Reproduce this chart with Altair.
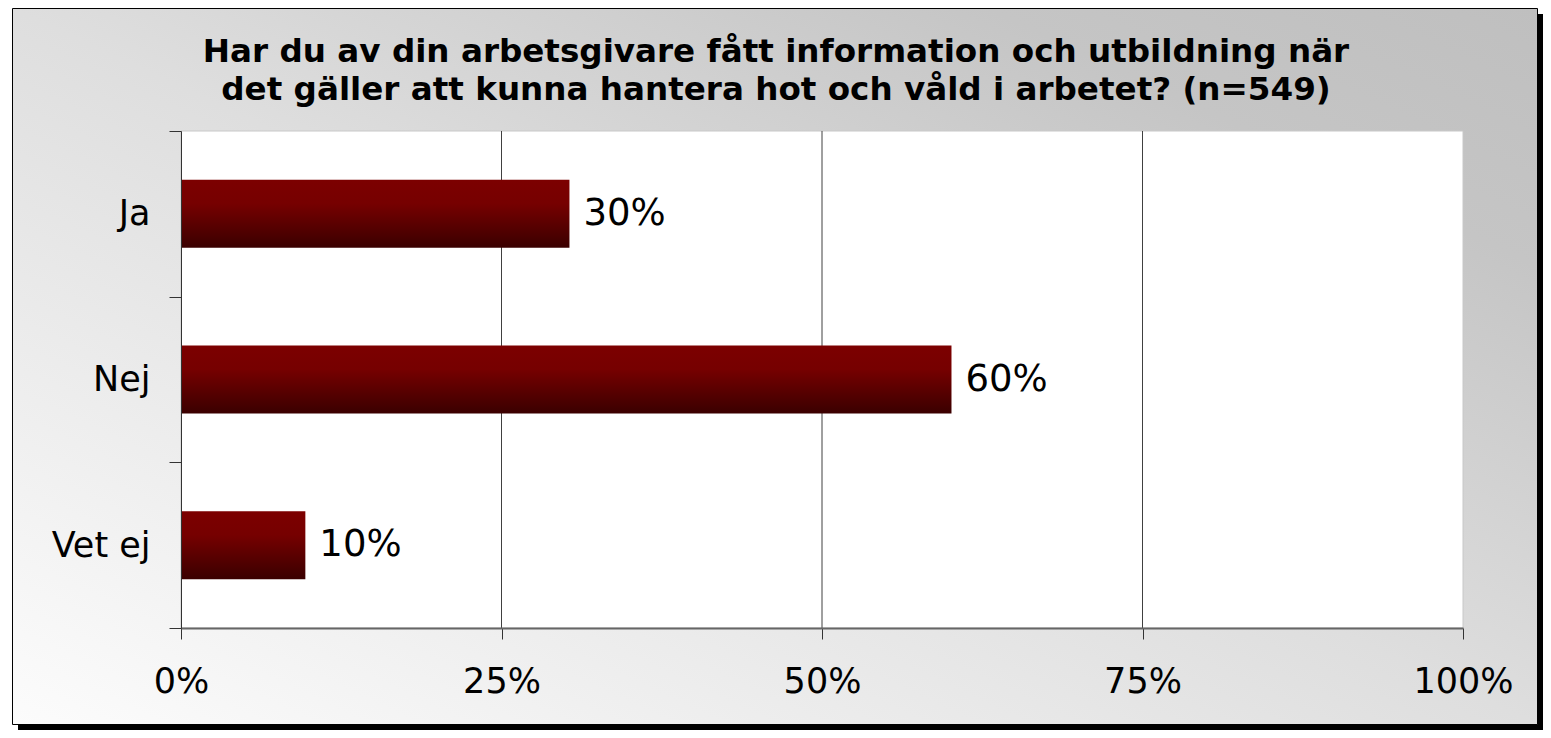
import altair as alt
import pandas as pd

# ---- data ----
categories = ["Ja", "Nej", "Vet ej"]
shares = [0.303, 0.601, 0.097]
value_labels = ["30%", "60%", "10%"]
x_ticks = [0, 0.25, 0.5, 0.75, 1.0]
grid_values = [0.25, 0.5, 0.75]
title_lines = [
    "Har du av din arbetsgivare fått information och utbildning när",
    "det gäller att kunna hantera hot och våld i arbetet? (n=549)",
]

W, H = 1282, 497
FONT = "DejaVu Sans"
LABEL_SIZE = 35
VALUE_SIZE = 37

bars_df = pd.DataFrame({"cat": categories, "share": shares, "label": value_labels})
grid_df = pd.DataFrame({"g": grid_values})
one = pd.DataFrame({"k": [0]})

bg_grad = alt.LinearGradient(
    gradient="linear", x1=0, y1=1, x2=1, y2=0,
    stops=[
        alt.GradientStop(offset=0, color="#fcfcfc"),
        alt.GradientStop(offset=0.5, color="#dedede"),
        alt.GradientStop(offset=0.82, color="#c5c5c5"),
        alt.GradientStop(offset=1, color="#bfbfbf"),
    ],
)
bar_grad = alt.LinearGradient(
    gradient="linear", x1=0, y1=0, x2=0, y2=1,
    stops=[
        alt.GradientStop(offset=0, color="#7c0000"),
        alt.GradientStop(offset=0.35, color="#760000"),
        alt.GradientStop(offset=1, color="#3a0000"),
    ],
)

x_scale = alt.Scale(domain=[0, 1], nice=False, zero=True)
y_scale = alt.Scale(paddingInner=0, paddingOuter=0)

x_axis = alt.Axis(
    values=x_ticks, format=".0%", title=None, grid=False, labelFlush=False,
    domainColor="#666666", domainWidth=2, tickColor="#333333",
    tickSize=11, tickWidth=1, labelFont=FONT, labelFontSize=LABEL_SIZE,
    labelColor="black", labelPadding=25, zindex=1,
)
y_axis = alt.Axis(
    title=None, grid=False, tickBand="extent", domainColor="#333333",
    tickColor="#333333", tickSize=12, labelFont=FONT,
    labelFontSize=LABEL_SIZE, labelColor="black", labelPadding=19, zindex=1,
)

shadow = alt.Chart(one).mark_rect(fill="black").encode(
    x=alt.value(-163), x2=alt.value(W + 80), y=alt.value(-117), y2=alt.value(H + 102)
)
frame = alt.Chart(one).mark_rect(fill=bg_grad, stroke="black", strokeWidth=1).encode(
    x=alt.value(-168.5), x2=alt.value(W + 74.5), y=alt.value(-122.5), y2=alt.value(H + 96.5)
)
plot_bg = alt.Chart(one).mark_rect(fill="white", stroke="#c8c8c8", strokeWidth=1).encode(
    x=alt.value(0), x2=alt.value(W), y=alt.value(0), y2=alt.value(H)
)
title = alt.Chart(one).mark_text(
    font=FONT, fontSize=32.6, fontWeight="bold", align="center",
    baseline="alphabetic", lineHeight=38, color="black",
).encode(x=alt.value(595), y=alt.value(-69), text=alt.value(title_lines))

grid = alt.Chart(grid_df).mark_rule(color="#404040", strokeWidth=1).encode(
    x=alt.X("g:Q", scale=x_scale, axis=x_axis),
    y=alt.value(0), y2=alt.value(H),
)

bars = alt.Chart(bars_df).mark_bar(size=68, fill=bar_grad).encode(
    x=alt.X("share:Q", scale=x_scale, axis=x_axis),
    y=alt.Y("cat:N", sort=categories, scale=y_scale, axis=y_axis),
)

texts = alt.Chart(bars_df).mark_text(
    align="left", baseline="middle", dx=14, font=FONT, fontSize=VALUE_SIZE, color="black"
).encode(
    x=alt.X("share:Q", scale=x_scale, axis=x_axis),
    y=alt.Y("cat:N", sort=categories, scale=y_scale, axis=y_axis),
    text="label:N",
)

chart = alt.layer(shadow, frame, plot_bg, title, grid, bars, texts).properties(
    width=W, height=H, autosize="none",
    padding={"left": 173, "top": 123, "right": 80, "bottom": 102},
).configure_view(stroke=None).configure_axis(zindex=1).configure(background="white")

chart.save("out.html", embed_options={"renderer": "svg", "actions": False})
